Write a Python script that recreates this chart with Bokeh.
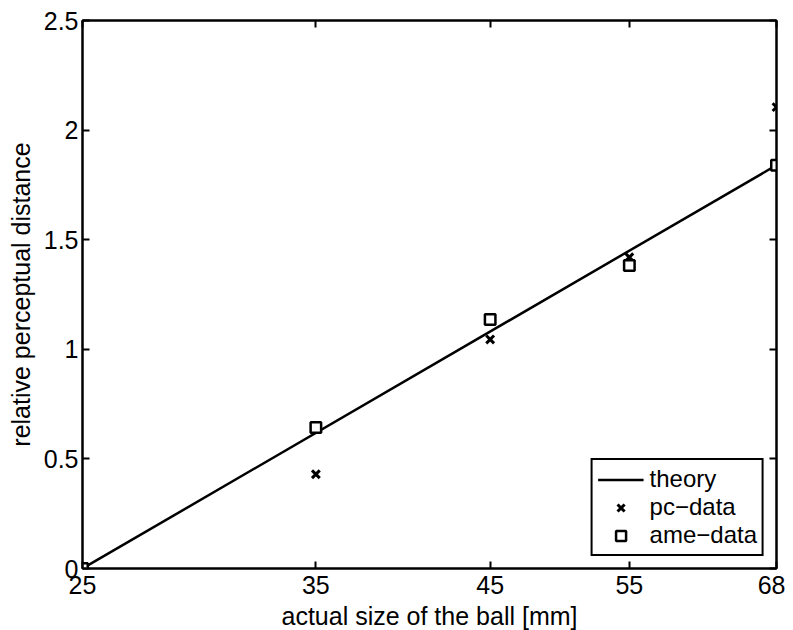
from bokeh.plotting import figure
from bokeh.models import (Range1d, FixedTicker, LinearAxis, LogAxis, Legend, LegendItem)
from bokeh.embed import file_html
from bokeh.resources import INLINE

# ---- data ----
ball_sizes = [25, 35, 45, 55, 68]
pc_data = [0.0, 0.43, 1.045, 1.42, 2.105]
ame_data = [0.0, 0.643, 1.136, 1.382, 1.84]
theory_x = [25, 68]
theory_y = [0.0, 1.84]

xticks = [25, 35, 45, 55, 68]
xtick_labels = ["25", "35", "45", "55", "68"]
yticks = [0, 0.5, 1, 1.5, 2, 2.5]
ytick_labels = ["0", "0.5", "1", "1.5", "2", "2.5"]

FONT = "Liberation Sans"
FS = "25px"

p = figure(
    x_axis_type="log",
    x_range=Range1d(25, 68), y_range=Range1d(0, 2.5),
    frame_width=694, frame_height=548,
    min_border_left=82, min_border_right=9, min_border_top=20, min_border_bottom=54,
    output_backend="svg", toolbar_location=None,
    background_fill_color="white", border_fill_color="white",
)
p.grid.visible = False
p.outline_line_color = "black"
p.outline_line_width = 2

def style_axis(ax, show_labels):
    ax.axis_line_color = "black"
    ax.axis_line_width = 2
    ax.major_tick_line_color = "black"
    ax.major_tick_line_width = 2
    ax.major_tick_in = 7
    ax.major_tick_out = 0
    ax.minor_tick_in = 0
    ax.minor_tick_out = 0
    ax.major_label_text_font = FONT
    ax.major_label_text_color = "black"
    if show_labels:
        ax.major_label_text_font_size = FS
        ax.major_label_standoff = 4
    else:
        ax.major_label_text_font_size = "0px"
        ax.major_label_standoff = 0
    ax.axis_label_text_font = FONT
    ax.axis_label_text_font_size = FS
    ax.axis_label_text_font_style = "normal"
    ax.axis_label_text_color = "black"

xt = FixedTicker(ticks=xticks, minor_ticks=[])
yt = FixedTicker(ticks=yticks, minor_ticks=[])
xover = {float(t): l for t, l in zip(xticks, xtick_labels)}
xover.update({t: l for t, l in zip(xticks, xtick_labels)})
yover = {float(t): l for t, l in zip(yticks, ytick_labels)}
yover.update({t: l for t, l in zip(yticks, ytick_labels)})

xa = p.xaxis[0]
xa.ticker = xt
xa.major_label_overrides = xover
xa.axis_label = "actual size of the ball [mm]"
style_axis(xa, True)
xa.major_label_standoff = 7
xa.axis_label_standoff = 5

ya = p.yaxis[0]
ya.ticker = yt
ya.major_label_overrides = yover
ya.axis_label = "relative perceptual distance"
style_axis(ya, True)
ya.axis_label_standoff = 6

top = LogAxis(ticker=FixedTicker(ticks=xticks, minor_ticks=[]))
style_axis(top, False)
p.add_layout(top, "above")
right = LinearAxis(ticker=FixedTicker(ticks=yticks, minor_ticks=[]))
style_axis(right, False)
p.add_layout(right, "right")

r_theory = p.line(theory_x, theory_y, line_color="black", line_width=2.5)
r_pc = p.scatter(ball_sizes, pc_data, marker="x", size=11, line_color="black", line_width=3)
r_ame = p.scatter(ball_sizes, ame_data, marker="square", size=10.5, line_color="black",
                  line_width=2.5, fill_color="white")

legend = Legend(
    items=[LegendItem(label="theory", renderers=[r_theory]),
           LegendItem(label="pc\u2212data", renderers=[r_pc]),
           LegendItem(label="ame\u2212data", renderers=[r_ame])],
    location="bottom_right", margin=12,
    border_line_color="black", border_line_width=2, border_line_alpha=1.0,
    background_fill_color="white", background_fill_alpha=1,
    label_text_font=FONT, label_text_font_size="24px", label_text_color="black",
    glyph_width=46, glyph_height=25, label_height=25, label_standoff=6,
    padding=5, spacing=-2,
)
p.add_layout(legend)

open("out.html", "w").write(file_html(p, INLINE))
